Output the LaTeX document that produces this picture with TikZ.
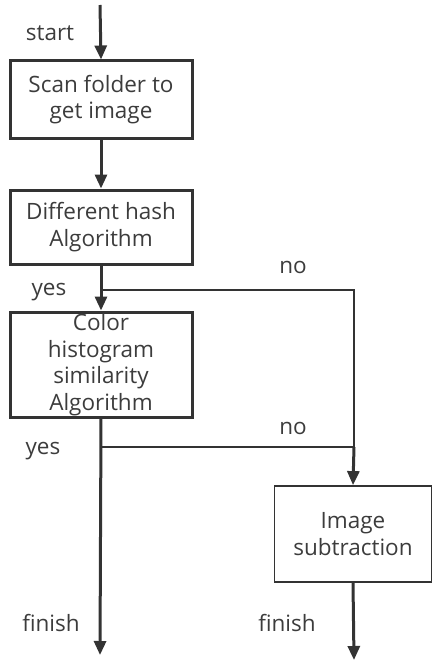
\documentclass[tikz,border=0pt]{standalone}
\usepackage{fontspec}
\setmainfont{Open Sans}
\usetikzlibrary{arrows.meta}
\definecolor{linegray}{HTML}{333333}
\definecolor{textgray}{HTML}{3C3C3C}
\tikzset{
  stepbox/.style={draw=linegray, line width=3pt, minimum width=182pt, inner sep=0pt, align=center, text=textgray},
  flow/.style={draw=linegray, line width=3pt, -{Triangle[length=14pt,width=12pt]}},
  link/.style={draw=linegray, line width=2pt},
  tag/.style={text=textgray, inner sep=0pt},
}
\begin{document}
\begin{tikzpicture}[x=1pt, y=-1pt, font=\fontsize{22.5}{26.5}\selectfont, line join=miter]
  \useasboundingbox (0,0) rectangle (433,661);
  % boxes
  \node[stepbox, minimum height=77pt] (scan) at (101,99.5) {Scan folder to\\get image};
  \node[stepbox, minimum height=74pt] (hash) at (101,227) {Different hash\\Algorithm};
  \node[stepbox, minimum height=105pt] (hist) at (101,364.5) {Color\\histogram\\similarity\\Algorithm};
  \node[stepbox, line width=1.8pt, minimum width=157pt, minimum height=96pt] (sub) at (353,534) {Image\\subtraction};
  % free ends and corners
  \coordinate (top) at (100,5);
  \coordinate (j1) at (100,290);  \coordinate (c1) at (354,290);
  \coordinate (j2) at (100,447);  \coordinate (c2) at (354,447);
  \coordinate (end1) at (100,655); \coordinate (end2) at (354,660);
  % connectors
  \draw[flow] (top) -- (scan.north);
  \draw[flow] (scan.south) -- (hash.north);
  \draw[flow] (hash.south) -- (hist.north);
  \draw[link] (j1) -- (c1) -- (c2);
  \draw[link] (j2) -- (c2);
  \draw[flow] (c2) -- (sub.north);
  \draw[flow] (hist.south) -- (end1);
  \draw[flow] (sub.south) -- (end2);
  % labels
  \node[tag] (lstart) at (50,33) {start};
  \node[tag] (lyes1) at (49,292) {yes};
  \node[tag] (lno1) at (293,267) {no};
  \node[tag] (lno2) at (293,428) {no};
  \node[tag] (lyes2) at (43,451) {yes};
  \node[tag] (lfin1) at (51,623) {finish};
  \node[tag] (lfin2) at (287,623) {finish};
\end{tikzpicture}
\end{document}
